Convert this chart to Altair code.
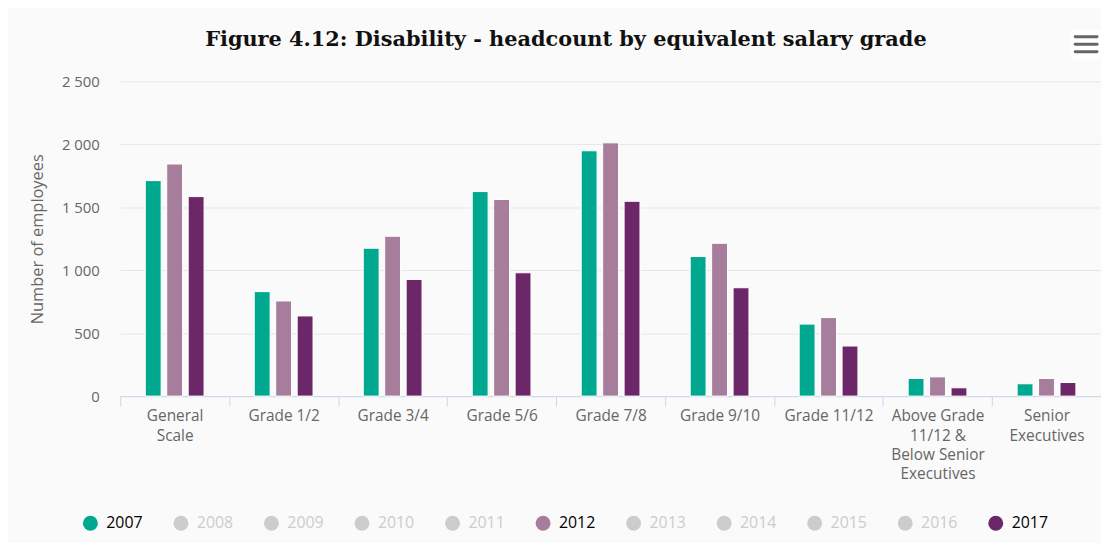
import json
import altair as alt
import pandas as pd

categories = ["General Scale", "Grade 1/2", "Grade 3/4", "Grade 5/6", "Grade 7/8",
              "Grade 9/10", "Grade 11/12", "Above Grade 11/12 & Below Senior Executives",
              "Senior Executives"]
label_lines = [["General", "Scale"], ["Grade 1/2"], ["Grade 3/4"], ["Grade 5/6"], ["Grade 7/8"],
               ["Grade 9/10"], ["Grade 11/12"], ["Above Grade", "11/12 &", "Below Senior", "Executives"],
               ["Senior", "Executives"]]
shown_years = ["2007", "2012", "2017"]
v2007 = [1712, 830, 1175, 1625, 1949, 1109, 572, 140, 98]
v2012 = [1844, 756, 1270, 1562, 2012, 1214, 624, 153, 140]
v2017 = [1585, 637, 927, 980, 1548, 861, 398, 66, 108]
all_years = [str(y) for y in range(2007, 2018)]
year_colors = {"2007": "#00a88f", "2012": "#a77d9c", "2017": "#6c2769"}
y_ticks = [0, 500, 1000, 1500, 2000, 2500]

rows = []
for yr, vals in zip(shown_years, [v2007, v2012, v2017]):
    for c, v in zip(categories, vals):
        rows.append({"category": c, "year": yr, "value": v})
df = pd.DataFrame(rows)

FONT = "Open Sans"
label_expr = (json.dumps(label_lines) + "[indexof(" + json.dumps(categories) + ", datum.value)]")
legend_color_expr = ("indexof(" + json.dumps(shown_years) + ", datum.value) >= 0 ? '#000000' : '#cccccc'")

offset_domain = ["_pad_left"] + shown_years + ["_pad_right"]

bars = alt.Chart(df).mark_bar(stroke="white", strokeWidth=1).encode(
    x=alt.X("category:N", sort=categories,
            scale=alt.Scale(paddingInner=0, paddingOuter=0),
            axis=alt.Axis(title=None, labelAngle=0, tickBand="extent", tickSize=10,
                          domainColor="#ccd6eb", tickColor="#ccd6eb", labelColor="#666666",
                          labelFont=FONT, labelFontSize=15.5, labelPadding=3,
                          labelLineHeight=19.5, labelExpr=label_expr, grid=False,
                          labelBaseline="top")),
    xOffset=alt.XOffset("year:N", scale=alt.Scale(domain=offset_domain, paddingInner=0.26,
                                                  paddingOuter=0.17)),
    y=alt.Y("value:Q", scale=alt.Scale(domain=[0, 2500]),
            axis=alt.Axis(values=y_ticks, title="Number of employees",
                          labelExpr="replace(format(datum.value, ','), ',', ' ')",
                          domain=False, ticks=False, labelPadding=21,
                          labelColor="#666666", labelFont=FONT, labelFontSize=15,
                          titleColor="#666666", titleFont=FONT, titleFontSize=16.5,
                          titleFontWeight="normal", titlePadding=16,
                          gridColor="#e6e6e6")),
    color=alt.Color("year:N",
                    scale=alt.Scale(domain=all_years,
                                    range=[year_colors.get(y, "#cccccc") for y in all_years]),
                    legend=alt.Legend(orient="none", legendX=-38, legendY=437,
                                      direction="horizontal", columns=11, title=None,
                                      symbolType="circle", symbolSize=225,
                                      symbolStrokeWidth=0, labelFont=FONT,
                                      labelFontSize=16, labelOffset=8, columnPadding=30.2,
                                      labelColor={"expr": legend_color_expr})),
)

one = pd.DataFrame({"a": [0]})
icon_box = alt.Chart(one).mark_rect(color="white", cornerRadius=3).encode(
    x=alt.value(957), x2=alt.value(990), y=alt.value(-52), y2=alt.value(-22))
icon_lines = [alt.Chart(one).mark_rule(color="#666666", strokeWidth=3, strokeCap="round").encode(
    x=alt.value(962), x2=alt.value(984), y=alt.value(yy)) for yy in (-45, -37.5, -30)]

chart = alt.layer(bars, icon_box, *icon_lines).properties(
    width=988, height=317,
    title=alt.Title("Figure 4.12: Disability - headcount by equivalent salary grade",
                    font="DejaVu Serif", fontSize=21, fontWeight="bold", color="#111111",
                    anchor="middle", baseline="alphabetic", dx=-45, dy=41),
    autosize=alt.AutoSizeParams(type="none"),
    padding={"left": 113, "top": 72, "right": 0, "bottom": 146},
    background="#fafafa",
).configure_view(stroke=None)

chart.save("out.html", embed_options={"renderer": "svg", "actions": False})
